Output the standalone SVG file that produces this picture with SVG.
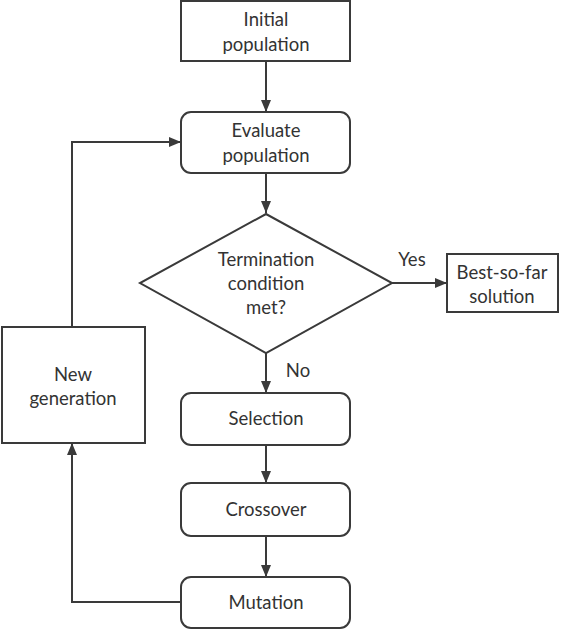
<svg xmlns="http://www.w3.org/2000/svg" width="571" height="629" viewBox="0 0 571 629">
<defs>
<style>
.box{fill:#fff;stroke:#3a3a3a;stroke-width:2}
.ln{fill:none;stroke:#3a3a3a;stroke-width:2}
text{font-family:Lato,"Noto Sans",sans-serif;font-size:18.5px;fill:#333;text-anchor:middle}
</style>
<marker id="ah" viewBox="0 0 12 10" refX="12" refY="5" markerWidth="12" markerHeight="10" markerUnits="userSpaceOnUse" orient="auto">
<path d="M0,0 L12,5 L0,10 Z" fill="#3a3a3a"/>
</marker>
</defs>
<rect width="571" height="629" fill="#fff"/>
<g id="connectors">
<line class="ln" x1="266" y1="61" x2="266" y2="112" marker-end="url(#ah)"/>
<line class="ln" x1="266" y1="173" x2="266" y2="213" marker-end="url(#ah)"/>
<line class="ln" x1="392" y1="283" x2="447" y2="283" marker-end="url(#ah)"/>
<line class="ln" x1="266" y1="353" x2="266" y2="393" marker-end="url(#ah)"/>
<line class="ln" x1="266" y1="445" x2="266" y2="483" marker-end="url(#ah)"/>
<line class="ln" x1="266" y1="536" x2="266" y2="577" marker-end="url(#ah)"/>
<polyline class="ln" points="181,602 72,602 72,443" marker-end="url(#ah)"/>
<polyline class="ln" points="72,327 72,142 181,142" marker-end="url(#ah)"/>
<text x="412" y="266">Yes</text>
<text x="298" y="377">No</text>
</g>
<g id="initial">
<rect class="box" x="181" y="1" width="169" height="60"/>
<text x="266" y="26">Initial</text>
<text x="266" y="51">population</text>
</g>
<g id="evaluate">
<rect class="box" x="181" y="112" width="169" height="61" rx="10"/>
<text x="266" y="137">Evaluate</text>
<text x="266" y="162">population</text>
</g>
<g id="termination">
<polygon class="box" points="266,214 392,283 266,353 140,283"/>
<text x="266" y="266">Termination</text>
<text x="266" y="290">condition</text>
<text x="266" y="314">met?</text>
</g>
<g id="best">
<rect class="box" x="447" y="254" width="111" height="58"/>
<text x="502" y="279">Best-so-far</text>
<text x="502" y="303">solution</text>
</g>
<g id="selection">
<rect class="box" x="181" y="393" width="169" height="52" rx="10"/>
<text x="266" y="425">Selection</text>
</g>
<g id="crossover">
<rect class="box" x="181" y="483" width="169" height="53" rx="10"/>
<text x="266" y="516">Crossover</text>
</g>
<g id="mutation">
<rect class="box" x="181" y="577" width="169" height="51" rx="10"/>
<text x="266" y="609">Mutation</text>
</g>
<g id="newgen">
<rect class="box" x="2" y="327" width="143" height="116"/>
<text x="73" y="381">New</text>
<text x="73" y="405">generation</text>
</g>
</svg>
